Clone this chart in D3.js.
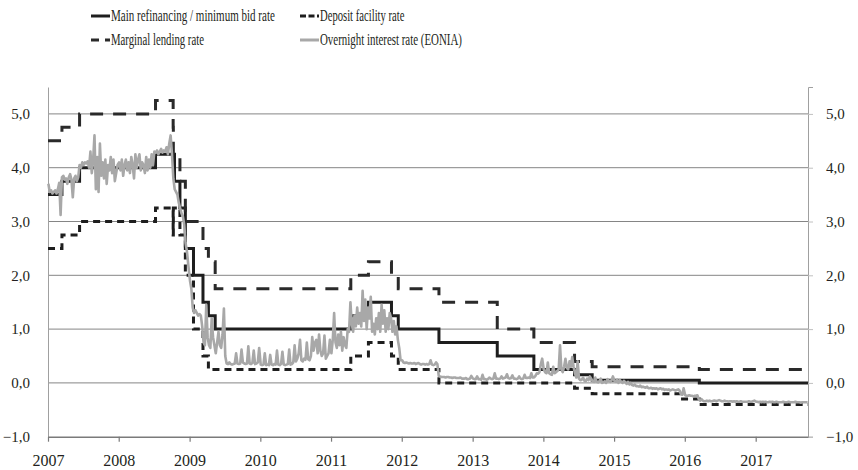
<!DOCTYPE html>
<html>
<head>
<meta charset="utf-8">
<script src="https://cdn.jsdelivr.net/npm/d3@7"></script>
<style>
body { margin: 0; background: #fff; }
text { font-family: "Liberation Serif", "DejaVu Serif", serif; fill: #231f20; }
</style>
</head>
<body>
<div id="chart"></div>
<script>
// ECB policy rates (step changes) and EONIA, 2007 - Sep 2017
const mroDates = ["2007-01-01","2007-03-14","2007-06-13","2008-07-09","2008-10-15","2008-11-12","2008-12-10","2009-01-21","2009-03-11","2009-04-08","2009-05-13","2011-04-13","2011-07-13","2011-11-09","2011-12-14","2012-07-11","2013-05-08","2013-11-13","2014-06-11","2014-09-10","2016-03-16"];
const mroValues = [3.50,3.75,4.00,4.25,3.75,3.25,2.50,2.00,1.50,1.25,1.00,1.25,1.50,1.25,1.00,0.75,0.50,0.25,0.15,0.05,0.00];

const depositDates = ["2007-01-01","2007-03-14","2007-06-13","2008-07-09","2008-10-08","2008-10-09","2008-11-12","2008-12-10","2009-01-21","2009-03-11","2009-04-08","2011-04-13","2011-07-13","2011-11-09","2011-12-14","2012-07-11","2014-06-11","2014-09-10","2015-12-09","2016-03-16"];
const depositValues = [2.50,2.75,3.00,3.25,2.75,3.25,2.75,2.00,1.00,0.50,0.25,0.50,0.75,0.50,0.25,0.00,-0.10,-0.20,-0.30,-0.40];

const marginalDates = ["2007-01-01","2007-03-14","2007-06-13","2008-07-09","2008-10-08","2008-10-09","2008-11-12","2008-12-10","2009-03-11","2009-04-08","2009-05-13","2011-04-13","2011-07-13","2011-11-09","2011-12-14","2012-07-11","2013-05-08","2013-11-13","2014-06-11","2014-09-10","2016-03-16"];
const marginalValues = [4.50,4.75,5.00,5.25,4.75,4.25,3.75,3.00,2.50,2.25,1.75,2.00,2.25,2.00,1.75,1.50,1.00,0.75,0.40,0.30,0.25];

// EONIA, weekly readings per year (Jan .. Dec)
const eonia2007 = [3.70,3.55,3.58,3.52, 3.55,3.58,3.52,3.60, 3.72,3.12,3.82,3.85,3.78, 3.80,3.70,3.82,3.88, 3.78,3.45,3.80,3.85,3.75, 3.82,4.05,4.00,4.10, 4.05,4.10,4.08,4.12, 4.00,4.30,3.90,4.15,4.60, 3.60,4.20,3.55,4.45, 3.85,4.10,3.80,4.15,3.70, 4.05,3.95,4.20,3.90, 4.15,3.75,3.90,4.05];
const eonia2008 = [4.10,3.95,4.15,3.85, 4.05,4.15,3.95,4.10, 3.90,4.20,4.05,3.80,4.25, 4.00,4.15,4.25,3.95, 4.10,4.05,3.90,4.20,3.95, 4.15,4.00,4.25,4.05, 4.30,4.28,4.32,4.25, 4.30,4.35,4.28,4.32,4.30, 4.38,4.25,4.45,4.60, 4.25,3.80,3.60,3.55,3.50, 3.35,3.25,3.15,3.10, 2.95,2.60,2.45,2.20];
const eonia2009 = [1.90,1.75,1.40,1.30, 1.35,1.30,1.25,1.28, 1.25,1.05,0.75,0.70,1.45, 0.85,0.70,0.65,1.20, 0.85,0.70,0.55,0.75,0.95, 0.70,0.65,0.90,1.38, 0.50,0.36,0.35,0.38, 0.35,0.34,0.35,0.36,0.55, 0.36,0.35,0.36,0.62, 0.38,0.36,0.35,0.36,0.68, 0.36,0.35,0.37,0.60, 0.35,0.36,0.38,0.65];
const eonia2010 = [0.34,0.33,0.34,0.55, 0.33,0.34,0.33,0.52, 0.34,0.33,0.35,0.34,0.60, 0.34,0.33,0.35,0.58, 0.34,0.33,0.34,0.35,0.62, 0.34,0.35,0.38,0.70, 0.40,0.45,0.55,0.80, 0.42,0.40,0.45,0.43,0.75, 0.44,0.42,0.50,0.85, 0.60,0.75,0.80,0.55,0.90, 0.60,0.50,0.55,0.88, 0.45,0.50,0.55,0.80];
const eonia2011 = [0.55,0.80,1.30,0.75, 0.65,0.90,0.70,0.95, 0.60,0.85,0.70,0.65,1.00, 0.95,1.50,1.10,0.95, 1.25,1.05,1.40,1.10,1.30, 1.05,1.71,1.15,1.55, 1.00,1.40,1.20,1.60, 0.95,1.10,0.90,1.20,1.00, 1.30,0.95,1.45,1.10, 1.35,0.95,1.20,1.00,1.30, 1.20,0.95,1.15,0.90, 1.05,0.80,0.65,0.42];
const eonia2012 = [0.42,0.38,0.37,0.38, 0.37,0.36,0.37,0.36, 0.36,0.37,0.35,0.36,0.37, 0.35,0.34,0.35,0.35, 0.34,0.35,0.34,0.35,0.42, 0.34,0.33,0.34,0.38, 0.35,0.13,0.12,0.11, 0.11,0.11,0.10,0.11,0.11, 0.10,0.10,0.09,0.10, 0.10,0.09,0.09,0.09,0.10, 0.08,0.08,0.08,0.09, 0.07,0.07,0.08,0.13];
const eonia2013 = [0.08,0.07,0.07,0.12, 0.07,0.07,0.06,0.15, 0.07,0.07,0.06,0.07,0.10, 0.08,0.07,0.08,0.18, 0.08,0.08,0.07,0.08,0.12, 0.08,0.09,0.10,0.16, 0.09,0.08,0.09,0.14, 0.08,0.08,0.07,0.08,0.12, 0.08,0.07,0.08,0.15, 0.09,0.09,0.10,0.09,0.18, 0.10,0.10,0.13,0.18, 0.17,0.20,0.35,0.45];
const eonia2014 = [0.25,0.20,0.18,0.38, 0.18,0.16,0.15,0.30, 0.18,0.20,0.22,0.25,0.70, 0.25,0.20,0.30,0.45, 0.28,0.25,0.40,0.30,0.48, 0.30,0.18,0.10,0.40, 0.08,0.05,0.06,0.10, 0.04,0.03,0.08,0.05,0.12, 0.08,0.03,0.02,0.10, 0.02,0.01,0.03,0.08,0.00, 0.01,0.03,0.00,0.07, 0.04,0.02,0.05,0.12];
const eonia2015 = [0.04,0.02,0.06,0.00, 0.05,0.02,0.00,0.04, 0.01,-0.02,0.02,-0.03,0.00, -0.04,-0.05,-0.03,-0.06, -0.06,-0.07,-0.05,-0.08,-0.07, -0.08,-0.09,-0.07,-0.10, -0.10,-0.09,-0.11,-0.10, -0.11,-0.10,-0.12,-0.11,-0.10, -0.12,-0.11,-0.13,-0.12, -0.13,-0.12,-0.14,-0.13,-0.12, -0.13,-0.14,-0.13,-0.12, -0.14,-0.21,-0.22,-0.10];
const eonia2016 = [-0.23,-0.24,-0.24,-0.23, -0.24,-0.24,-0.25,-0.24, -0.24,-0.23,-0.30,-0.33,-0.30, -0.33,-0.34,-0.34,-0.33, -0.34,-0.33,-0.34,-0.34,-0.33, -0.33,-0.34,-0.33,-0.32, -0.33,-0.34,-0.34,-0.33, -0.34,-0.34,-0.35,-0.34,-0.34, -0.35,-0.34,-0.35,-0.34, -0.35,-0.35,-0.34,-0.35,-0.35, -0.35,-0.35,-0.35,-0.34, -0.35,-0.35,-0.34,-0.33];
const eonia2017 = [-0.35,-0.35,-0.36,-0.35, -0.36,-0.35,-0.36,-0.35, -0.36,-0.36,-0.35,-0.36,-0.35, -0.36,-0.36,-0.35,-0.36, -0.36,-0.36,-0.36,-0.35,-0.36, -0.36,-0.36,-0.35,-0.36, -0.36,-0.36,-0.36,-0.35, -0.36,-0.36,-0.36,-0.37,-0.36, -0.36,-0.36,-0.36,-0.36];

const eoniaYears = [2007,2008,2009,2010,2011,2012,2013,2014,2015,2016,2017];
const eoniaByYear = [eonia2007,eonia2008,eonia2009,eonia2010,eonia2011,eonia2012,eonia2013,eonia2014,eonia2015,eonia2016,eonia2017];

const xStart = "2007-01-01", xEnd = "2017-09-28";
const yearTicks = [2007,2008,2009,2010,2011,2012,2013,2014,2015,2016,2017];
const yTicks = [-1,0,1,2,3,4,5];
const legendLabels = ["Main refinancing / minimum bid rate","Deposit facility rate","Marginal lending rate","Overnight interest rate (EONIA)"];

const W = 858, H = 470;
const parse = d3.timeParse("%Y-%m-%d");

const svg = d3.select("#chart").append("svg")
  .attr("width", W)
  .attr("height", H);

const x = d3.scaleTime().domain([parse(xStart), parse(xEnd)]).range([48, 808]);
const y = d3.scaleLinear().domain([-1, 5.5]).range([436.7, 87]);

const fmt = d => d3.format(".1f")(d).replace(".", ",");

// gridlines
svg.append("g").selectAll("line")
  .data(yTicks.filter(d => d > -1))
  .enter().append("line")
  .attr("x1", x.range()[0]).attr("x2", x.range()[1])
  .attr("y1", d => y(d)).attr("y2", d => y(d))
  .attr("stroke", "#858585").attr("stroke-width", 1);

// left axis
const gl = svg.append("g").attr("transform", "translate(48,0)")
  .call(d3.axisLeft(y).tickValues(yTicks).tickSize(0).tickPadding(18).tickFormat(fmt));
gl.select(".domain").attr("stroke", "#a0a0a0");
gl.selectAll("text").attr("font-size", 15).style("font-family", "Liberation Serif");

// right axis
const gr = svg.append("g").attr("transform", "translate(808,0)")
  .call(d3.axisRight(y).tickValues(yTicks).tickSize(5).tickPadding(13).tickFormat(fmt));
gr.select(".domain").attr("stroke", "#a0a0a0");
gr.selectAll(".tick line").attr("stroke", "#c0c0c0");
gr.selectAll("text").attr("font-size", 15).style("font-family", "Liberation Serif");

// bottom axis
const gb = svg.append("g").attr("transform", "translate(0," + y(-1) + ")")
  .call(d3.axisBottom(x)
    .tickValues(yearTicks.map(yr => new Date(yr, 0, 1)))
    .tickFormat(d3.timeFormat("%Y"))
    .tickSize(5).tickPadding(13).tickSizeOuter(0));
gb.select(".domain").attr("stroke", "#7a7a7a").attr("stroke-width", 1.5);
gb.selectAll(".tick line").attr("stroke", "#7a7a7a").attr("stroke-width", 1.2);
gb.selectAll("text").attr("font-size", 16).style("font-family", "Liberation Serif");

// series
function stepSeries(dates, values) {
  const pts = dates.map((d, i) => ({ date: parse(d), value: values[i] }));
  pts.push({ date: parse(xEnd), value: values[values.length - 1] });
  return pts;
}
const eoniaData = [];
eoniaYears.forEach((yr, k) => {
  eoniaByYear[k].forEach((v, i) => eoniaData.push({ date: new Date(yr, 0, 3 + 7 * i), value: v }));
});

const stepLine = d3.line().x(d => x(d.date)).y(d => y(d.value)).curve(d3.curveStepAfter);
const plainLine = d3.line().x(d => x(d.date)).y(d => y(d.value));

svg.append("path").datum(stepSeries(mroDates, mroValues))
  .attr("d", stepLine).attr("fill", "none")
  .attr("stroke", "#1e1e1e").attr("stroke-width", 3);

svg.append("path").datum(stepSeries(depositDates, depositValues))
  .attr("d", stepLine).attr("fill", "none")
  .attr("stroke", "#1e1e1e").attr("stroke-width", 3)
  .attr("stroke-dasharray", "7,5");

svg.append("path").datum(stepSeries(marginalDates, marginalValues))
  .attr("d", stepLine).attr("fill", "none")
  .attr("stroke", "#2a2a2a").attr("stroke-width", 3)
  .attr("stroke-dasharray", "13,10");

svg.append("path").datum(eoniaData)
  .attr("d", plainLine).attr("fill", "none")
  .attr("stroke", "#a8a8a8").attr("stroke-width", 2.6)
  .attr("stroke-linejoin", "round");

// legend (condensed serif: squeeze text horizontally)
const legendItems = [
  { label: legendLabels[0], x: 91, y: 16, stroke: "#1e1e1e", dash: null, w: 164 },
  { label: legendLabels[1], x: 300, y: 16, stroke: "#1e1e1e", dash: "6,2.5", w: 84.5 },
  { label: legendLabels[2], x: 91, y: 40, stroke: "#2a2a2a", dash: "8,6", w: 93 },
  { label: legendLabels[3], x: 300, y: 40, stroke: "#a8a8a8", dash: null, w: 142 }
];
const lg = svg.append("g").selectAll("g").data(legendItems).enter().append("g");
lg.append("line")
  .attr("x1", d => d.x).attr("x2", d => d.x + 19)
  .attr("y1", d => d.y).attr("y2", d => d.y)
  .attr("stroke", d => d.stroke).attr("stroke-width", 3)
  .attr("stroke-dasharray", d => d.dash);
lg.append("text")
  .attr("x", 0).attr("y", 0)
  .attr("font-size", 16)
  .text(d => d.label)
  .attr("transform", function(d) {
    const natural = this.getComputedTextLength();
    return "translate(" + (d.x + 20) + "," + (d.y + 5) + ") scale(" + (d.w / natural) + ",1)";
  });
</script>
</body>
</html>
